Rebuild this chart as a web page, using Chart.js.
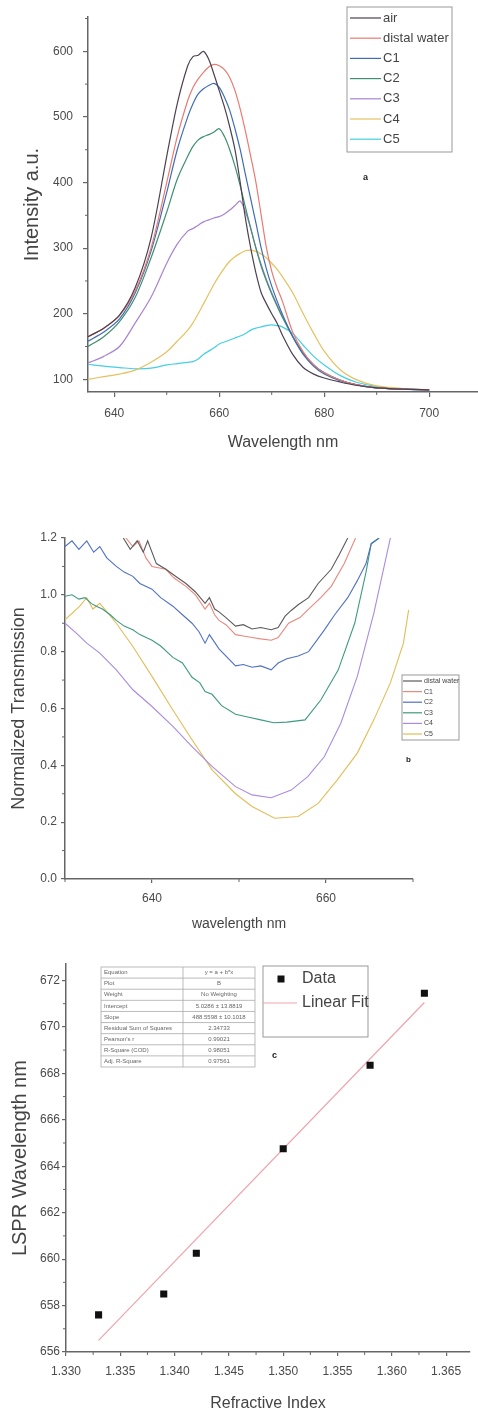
<!DOCTYPE html>
<html>
<head>
<meta charset="utf-8">
<script src="https://cdn.jsdelivr.net/npm/chart.js@4.4.1/dist/chart.umd.min.js"></script>
<style>
html, body { margin: 0; padding: 0; background: #fff; }
body { width: 478px; height: 1414px; position: relative; overflow: hidden; }
canvas { position: absolute; left: 0; }
</style>
</head>
<body>
<canvas id="chartA" width="478" height="480" style="top:0px"></canvas>
<canvas id="chartB" width="478" height="460" style="top:500px"></canvas>
<canvas id="chartC" width="478" height="459" style="top:955px"></canvas>
<script>
// ---------- panel a : intensity spectra ----------
const aWave = [635,638,641,644,647,650,652,654,655,656,657,658,659,660,661,662,663,664,665,666,667,668,669,670,671,672,674,676,678,680,683,686,690,695,700];
const aAir   = [165,178,198,240,315,440,520,578,592,594,600,588,565,540,515,485,450,400,345,300,262,232,215,200,186,168,138,118,108,102,96,91,87,85,84];
const aWater = [165,178,197,235,300,400,470,525,545,558,568,576,580,578,572,560,540,512,478,440,400,350,300,265,240,220,172,142,122,110,99,92,87,85,84];
const aC1    = [158,172,192,232,295,385,450,500,520,535,543,548,551,545,530,510,482,450,412,375,338,300,268,242,220,200,165,138,120,108,98,92,87,85,84];
const aC2    = [150,165,188,225,285,355,405,440,455,465,470,473,477,482,470,450,425,395,362,330,300,272,250,230,212,195,165,140,122,110,99,92,87,85,84];
const aC3    = [125,135,150,186,225,277,306,326,330,335,340,343,346,348,352,358,365,372,355,330,300,275,252,232,214,197,166,140,122,110,99,92,87,85,84];
const aC4    = [100,104,108,114,126,142,158,175,186,200,215,230,245,258,270,280,287,292,296,297,295,291,285,277,268,257,232,200,170,143,115,100,90,86,84];
const aC5    = [123,120,118,116,117,122,124,126,127,131,138,143,148,154,157,160,163,166,170,175,178,180,182,183,182,180,170,152,135,122,106,96,89,85,84];
const aLabels = ['air', 'distal water', 'C1', 'C2', 'C3', 'C4', 'C5'];
const aXTicks = [640, 660, 680, 700];
const aXMinor = [650, 670, 690];
const aYTicks = [100, 200, 300, 400, 500, 600];
const aYMinor = [150, 250, 350, 450, 550, 650];

// ---------- panel b : normalized transmission ----------
const bLabels = ['distal water', 'C1', 'C2', 'C3', 'C4', 'C5'];
const bDwX = [636.7,637.5,638.3,639,639.5,640.5,641.6,642.5,643.9,645,646.1,646.6,647.2,647.7,648.5,649.6,650.5,651.5,652.5,653.7,654.5,655.3,656,656.8,658,659.1,660.6,661.5,662.5];
const bDwY = [1.2,1.16,1.19,1.15,1.19,1.11,1.09,1.07,1.04,1.01,0.97,0.99,0.95,0.94,0.92,0.89,0.895,0.88,0.885,0.877,0.885,0.925,0.945,0.965,0.99,1.04,1.09,1.14,1.2];
const bC1X = [637,637.8,638.5,639.3,640,641.6,642.5,643.9,645,646.1,646.6,647.2,647.7,648.5,649.6,650.5,651.5,652.5,653.7,654.5,655.7,657,658,659.4,660.6,662.1,663.4];
const bC1Y = [1.2,1.17,1.19,1.13,1.1,1.09,1.06,1.03,1.0,0.95,0.97,0.93,0.91,0.895,0.86,0.855,0.85,0.845,0.84,0.85,0.9,0.92,0.95,0.99,1.03,1.11,1.2];
const bC2X = [630,630.8,631.6,632.5,633.3,634,634.8,635.9,636.8,637.8,638.6,640,641,642.4,643.5,644.6,645.4,646.1,646.6,647.7,649.6,650.5,651.5,652.5,653.7,654.5,655.5,656.8,658,659.8,661,662.5,663.6,664.6,665.2,666.1];
const bC2Y = [1.17,1.19,1.16,1.19,1.15,1.17,1.13,1.1,1.08,1.065,1.04,1.02,0.99,0.96,0.93,0.9,0.87,0.83,0.86,0.81,0.75,0.755,0.745,0.75,0.736,0.76,0.775,0.785,0.8,0.876,0.93,0.99,1.05,1.11,1.18,1.2];
const bC3X = [630,630.8,631.6,632.3,633,633.6,634.3,635.2,635.9,636.8,637.8,638.6,640,641,642.4,643.5,644.6,645.5,646.1,646.9,648,649.6,651,652.5,654,655.5,657.6,659.4,661.4,663.3,664.6,665.2,666.1];
const bC3Y = [0.995,1.0,0.985,0.99,0.97,0.96,0.95,0.93,0.91,0.89,0.877,0.86,0.84,0.82,0.78,0.76,0.71,0.69,0.66,0.65,0.61,0.58,0.57,0.56,0.55,0.552,0.56,0.63,0.735,0.9,1.08,1.18,1.2];
const bC4X = [630,631.3,632.5,634,635.9,637.8,640,642.4,644.6,646.9,649.6,651.5,653.7,656,657.9,659.8,661.7,663.6,665.5,667.4];
const bC4Y = [0.9,0.865,0.83,0.795,0.736,0.666,0.607,0.537,0.466,0.396,0.325,0.296,0.286,0.313,0.36,0.43,0.548,0.713,0.936,1.2];
const bC5X = [630,631.7,632.5,633.2,634,635.9,637.8,640,642.4,644.6,646.9,649.6,651.5,654.1,656.8,659.1,661.3,663.6,665.5,667.4,668.9,669.5];
const bC5Y = [0.912,0.96,0.99,0.95,0.97,0.9,0.818,0.713,0.595,0.49,0.384,0.3,0.255,0.214,0.22,0.266,0.349,0.443,0.56,0.69,0.83,0.947];
const bXTicks = [640, 660];
const bXMinor = [630, 650, 670];
const bYTicks = [0, 0.2, 0.4, 0.6, 0.8, 1.0, 1.2];
const bYMinor = [0.1, 0.3, 0.5, 0.7, 0.9, 1.1];

// ---------- panel c : LSPR shift vs refractive index ----------
const cIndex = [1.333, 1.339, 1.342, 1.350, 1.358, 1.363];
const cLspr  = [657.6, 658.5, 660.25, 664.75, 668.35, 671.45];
const cFitX  = [1.333, 1.363];
const cFitY  = [656.5, 671.05];
const cXTicks = [1.330, 1.335, 1.340, 1.345, 1.350, 1.355, 1.360, 1.365];
const cXMinor = [1.3325, 1.3375, 1.3425, 1.3475, 1.3525, 1.3575, 1.3625];
const cYTicks = [656, 658, 660, 662, 664, 666, 668, 670, 672];
const cYMinor = [657, 659, 661, 663, 665, 667, 669, 671];
const cStatNames  = ['Equation', 'Plot', 'Weight', 'Intercept', 'Slope', 'Residual Sum of Squares', "Pearson's r", 'R-Square (COD)', 'Adj. R-Square'];
const cStatValues = ['y = a + b*x', 'B', 'No Weighting', '5.0286 \u00b1 13.8819', '488.5598 \u00b1 10.1018', '2.34733', '0.99021', '0.98051', '0.97561'];

const FONT = '"Liberation Sans", Arial, sans-serif';
const AXIS = '#666';
const TEXT = '#4a4a4a';

// zip two arrays into {x,y} points
function pts(xs, ys) {
  return xs.map((x, i) => ({x: x, y: ys[i]}));
}

// build an axis with fixed size and fixed tick values
function axis(opts) {
  return {
    type: 'linear',
    min: opts.min,
    max: opts.max,
    afterBuildTicks: s => { s.ticks = opts.ticks.map(v => ({value: v})); },
    afterFit: s => {
      if (s.isHorizontal()) s.height = opts.size; else s.width = opts.size;
    },
    border: {color: AXIS, width: 1.5},
    grid: {drawOnChartArea: false, drawTicks: true, tickLength: opts.tick, color: AXIS, lineWidth: 1.2},
    ticks: {
      color: TEXT, padding: opts.pad, maxRotation: 0, autoSkip: false,
      font: {family: FONT, size: opts.fontSize},
      callback: opts.fmt
    },
    title: {
      display: true, text: opts.title, color: '#444',
      font: {family: FONT, size: opts.titleSize},
      padding: opts.titlePad
    }
  };
}

// minor tick marks, placed through the chart's own scales
const minorTicks = {
  id: 'minorTicks',
  afterDraw(chart, args, o) {
    const ctx = chart.ctx;
    const sx = chart.scales.x, sy = chart.scales.y;
    ctx.save();
    ctx.strokeStyle = AXIS;
    ctx.lineWidth = 1;
    o.x.forEach(v => {
      const px = sx.getPixelForValue(v);
      ctx.beginPath(); ctx.moveTo(px, sx.top); ctx.lineTo(px, sx.top + o.len); ctx.stroke();
    });
    o.y.forEach(v => {
      const py = sy.getPixelForValue(v);
      ctx.beginPath(); ctx.moveTo(sy.right, py); ctx.lineTo(sy.right - o.len, py); ctx.stroke();
    });
    ctx.restore();
  }
};

// Origin style boxed legend + panel letter
const boxLegend = {
  id: 'boxLegend',
  afterDraw(chart, args, o) {
    const ctx = chart.ctx;
    ctx.save();
    ctx.strokeStyle = '#999';
    ctx.lineWidth = 1;
    ctx.strokeRect(o.x, o.y, o.w, o.h);
    ctx.font = o.fontSize + 'px ' + FONT;
    ctx.textBaseline = 'middle';
    chart.data.datasets.forEach((ds, i) => {
      const y = o.row0 + i * o.step;
      if (ds.showLine === false) {
        const s = o.marker;
        ctx.fillStyle = ds.backgroundColor;
        ctx.fillRect(o.markX - s / 2, y - s / 2, s, s);
      } else {
        ctx.strokeStyle = ds.borderColor;
        ctx.lineWidth = 1.2;
        ctx.beginPath(); ctx.moveTo(o.l1, y); ctx.lineTo(o.l2, y); ctx.stroke();
      }
      ctx.fillStyle = '#444';
      ctx.fillText(ds.label, o.tx, y);
    });
    ctx.font = 'bold ' + o.letterSize + 'px ' + FONT;
    ctx.fillStyle = '#222';
    ctx.fillText(o.letter, o.lx, o.ly);
    ctx.restore();
  }
};

// fit statistics table of panel c
const statTable = {
  id: 'statTable',
  afterDraw(chart, args, o) {
    if (!o.show) return;
    const ctx = chart.ctx;
    const rh = o.h / cStatNames.length;
    ctx.save();
    ctx.strokeStyle = '#aaa';
    ctx.lineWidth = 0.8;
    ctx.strokeRect(o.x, o.y, o.w, o.h);
    ctx.beginPath(); ctx.moveTo(o.col, o.y); ctx.lineTo(o.col, o.y + o.h); ctx.stroke();
    ctx.font = '6px ' + FONT;
    ctx.fillStyle = '#666';
    ctx.textBaseline = 'middle';
    cStatNames.forEach((n, i) => {
      const y = o.y + i * rh;
      if (i > 0) { ctx.beginPath(); ctx.moveTo(o.x, y); ctx.lineTo(o.x + o.w, y); ctx.stroke(); }
      ctx.textAlign = 'left';
      ctx.fillText(n, o.x + 3, y + rh / 2);
      ctx.textAlign = 'center';
      ctx.fillText(cStatValues[i], (o.col + o.x + o.w) / 2, y + rh / 2);
    });
    ctx.restore();
  }
};

Chart.defaults.animation = false;
Chart.defaults.responsive = false;
Chart.defaults.plugins.legend.display = false;
Chart.defaults.plugins.tooltip.enabled = false;

// panel a
const aColors = ['#4d4050', '#ea7a72', '#3f6db5', '#3f8f70', '#a883d2', '#e6c160', '#45cfe0'];
const aSeries = [aAir, aWater, aC1, aC2, aC3, aC4, aC5];
new Chart(document.getElementById('chartA'), {
  type: 'line',
  data: {
    datasets: aSeries.map((s, i) => ({
      label: aLabels[i], data: pts(aWave, s),
      borderColor: aColors[i], borderWidth: 1.2, pointRadius: 0, tension: 0.3, fill: false
    }))
  },
  options: {
    layout: {padding: {left: 0, top: 7, right: 0, bottom: 0}},
    scales: {
      x: axis({min: 635, max: 709.3, ticks: aXTicks, size: 88, tick: 5, pad: 9, fontSize: 12,
        fmt: v => String(v), title: 'Wavelength nm', titleSize: 16, titlePad: {top: 0, bottom: 28}}),
      y: axis({min: 80.7, max: 652, ticks: aYTicks, size: 88, tick: 5, pad: 10, fontSize: 12,
        fmt: v => String(v), title: 'Intensity a.u.', titleSize: 20, titlePad: {top: 20, bottom: 0}})
    },
    plugins: {
      minorTicks: {x: aXMinor, y: aYMinor, len: 3},
      boxLegend: {x: 347, y: 7, w: 105, h: 145, row0: 18, step: 20.2, l1: 350, l2: 381, tx: 383,
        fontSize: 13, letter: 'a', letterSize: 9, lx: 363, ly: 178}
    }
  },
  plugins: [minorTicks, boxLegend]
});

// panel b
const bColors = ['#5a5a5a', '#e8887e', '#4f70c4', '#3e9a80', '#a98be0', '#e2bd58'];
const bSeries = [[bDwX, bDwY], [bC1X, bC1Y], [bC2X, bC2Y], [bC3X, bC3Y], [bC4X, bC4Y], [bC5X, bC5Y]];
new Chart(document.getElementById('chartB'), {
  type: 'line',
  data: {
    datasets: bSeries.map((s, i) => ({
      label: bLabels[i], data: pts(s[0], s[1]),
      borderColor: bColors[i], borderWidth: 1.1, pointRadius: 0, tension: 0, fill: false
    }))
  },
  options: {
    layout: {padding: {left: 0, top: 38, right: 65, bottom: 0}},
    scales: {
      x: axis({min: 630, max: 670, ticks: bXTicks, size: 81, tick: 4, pad: 8, fontSize: 12,
        fmt: v => String(v), title: 'wavelength nm', titleSize: 14, titlePad: {top: 0, bottom: 27}}),
      y: axis({min: 0, max: 1.2, ticks: bYTicks, size: 65, tick: 4, pad: 4, fontSize: 12,
        fmt: v => v.toFixed(1), title: 'Normalized Transmission', titleSize: 18, titlePad: {top: 8, bottom: 0}})
    },
    plugins: {
      minorTicks: {x: bXMinor, y: bYMinor, len: 3},
      boxLegend: {x: 402, y: 175, w: 57, h: 65, row0: 181, step: 10.6, l1: 403, l2: 422, tx: 424,
        fontSize: 7, letter: 'b', letterSize: 8, lx: 406, ly: 260}
    }
  },
  plugins: [minorTicks, boxLegend]
});

// panel c
new Chart(document.getElementById('chartC'), {
  type: 'scatter',
  data: {
    datasets: [
      {label: 'Data', data: pts(cIndex, cLspr), showLine: false, pointStyle: 'rect',
        pointRadius: 5, backgroundColor: '#111', borderColor: '#111', borderWidth: 0},
      {label: 'Linear Fit', data: pts(cFitX, cFitY), showLine: true, pointRadius: 0,
        borderColor: '#f0a3ab', borderWidth: 1.2}
    ]
  },
  options: {
    layout: {padding: {left: 0, top: 7, right: 8, bottom: 0}},
    scales: {
      x: axis({min: 1.330, max: 1.3672, ticks: cXTicks, size: 62, tick: 4, pad: 8, fontSize: 12,
        fmt: v => v.toFixed(3), title: 'Refractive Index', titleSize: 16, titlePad: {top: 0, bottom: 1}}),
      y: axis({min: 656, max: 672.7, ticks: cYTicks, size: 66, tick: 4, pad: 2, fontSize: 12,
        fmt: v => String(v), title: 'LSPR Wavelength nm', titleSize: 20, titlePad: {top: 8, bottom: 0}})
    },
    plugins: {
      minorTicks: {x: cXMinor, y: cYMinor, len: 3},
      boxLegend: {x: 263, y: 11, w: 105, h: 71, row0: 24, step: 24, l1: 263, l2: 297, tx: 302,
        marker: 7, markX: 281, fontSize: 16, letter: 'c', letterSize: 9, lx: 272, ly: 101},
      statTable: {show: true, x: 101, y: 12, w: 154, h: 100, col: 183}
    }
  },
  plugins: [minorTicks, boxLegend, statTable]
});
</script>
</body>
</html>
